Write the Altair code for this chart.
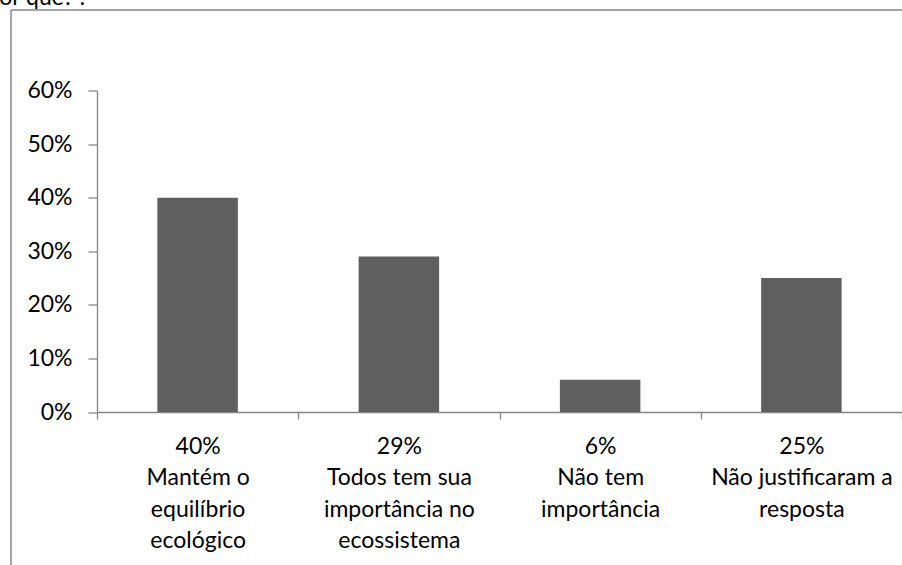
import altair as alt
import pandas as pd

# Answer categories (one list of text lines per bar) and their shares in percent
categories = [
    ["Mantém o", "equilíbrio", "ecológico"],
    ["Todos tem sua", "importância no", "ecossistema"],
    ["Não tem", "importância"],
    ["Não justificaram a", "resposta"],
]
percentages = [40, 29, 6, 25]
y_ticks = [0, 10, 20, 30, 40, 50, 60]
heading = "Por quê? :"

FONT = "Lato"
GRAY = "#868686"
BAR = "#5f5f5f"
FS = 23

labels = ["|".join([f"{p}%"] + lines) for p, lines in zip(percentages, categories)]
df = pd.DataFrame({"label": labels, "share": [p / 100 for p in percentages]})
one = pd.DataFrame({"t": [heading]})

bars = alt.Chart(df).mark_bar(color=BAR, width=alt.RelativeBandSize(0.4)).encode(
    x=alt.X(
        "label:N",
        sort=None,
        title=None,
        scale=alt.Scale(paddingInner=0, paddingOuter=0),
        axis=alt.Axis(
            labelExpr="isValid(datum.value) ? split(datum.value, '|') : ''",
            labelAngle=0,
            labelLimit=500,
            labelOverlap=False,
            labelFont=FONT,
            labelFontSize=FS,
            labelColor="#000000",
            labelLineHeight=31.5,
            labelBaseline="top",
            labelPadding=16,
            tickBand="extent",
            tickSize=7,
            tickColor=GRAY,
            tickWidth=1.3,
            domainColor=GRAY,
            domainWidth=1.3,
            grid=False,
        ),
    ),
    y=alt.Y(
        "share:Q",
        title=None,
        scale=alt.Scale(domain=[0, 0.6], nice=False),
        axis=alt.Axis(
            values=[v / 100 for v in y_ticks],
            format=".0%",
            labelFont=FONT,
            labelFontSize=FS,
            labelColor="#000000",
            labelPadding=16,
            tickSize=9,
            tickColor=GRAY,
            tickWidth=1.3,
            domainColor=GRAY,
            domainWidth=1.3,
            grid=False,
        ),
    ),
)

# Outer chart frame (left and top edges)
frame_left = alt.Chart(one).mark_rule(color=GRAY, strokeWidth=1.5).encode(
    x=alt.value(-86), y=alt.value(-80.5), y2=alt.value(480)
)
frame_top = alt.Chart(one).mark_rule(color=GRAY, strokeWidth=1.5).encode(
    x=alt.value(-86), x2=alt.value(810), y=alt.value(-80.5)
)
head = alt.Chart(one).mark_text(
    align="left", baseline="alphabetic", font=FONT, fontSize=FS, color="#000000"
).encode(text="t:N", x=alt.value(-111), y=alt.value(-86))

chart = (
    alt.layer(frame_left, frame_top, head, bars)
    .properties(
        width=805,
        height=321.5,
        autosize=alt.AutoSizeParams(type="none"),
        padding={"left": 97, "top": 90.5, "right": 0, "bottom": 153},
        background="white",
    )
    .configure_view(stroke=None)
)

chart.save("out.html", embed_options={"renderer": "svg", "actions": False})
